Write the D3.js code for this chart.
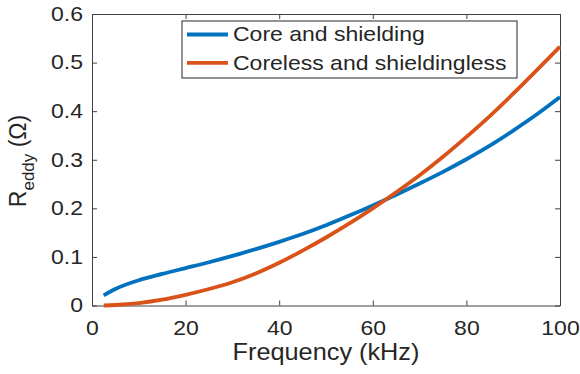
<!DOCTYPE html>
<html>
<head>
<meta charset="utf-8">
<script src="https://cdn.jsdelivr.net/npm/d3@7"></script>
<style>
html,body{margin:0;padding:0;background:#fff}
text{font-family:"Liberation Sans",Arial,sans-serif;fill:#262626}
</style>
</head>
<body>
<div id="chart"></div>
<script>

// frequency points (kHz)
const freq=[2.5,5,10,15,20,25,30,35,40,45,50,55,60,65,70,75,80,85,90,95,100]

// R_eddy values (ohm)
const coreShield=[0.021,0.034,0.052,0.065,0.077,0.089,0.102,0.116,0.131,0.147,0.165,0.185,0.206,0.228,0.251,0.275,0.301,0.329,0.360,0.393,0.429]
const coreless=[0.000,0.001,0.005,0.012,0.022,0.034,0.048,0.066,0.088,0.113,0.140,0.169,0.200,0.233,0.268,0.306,0.347,0.390,0.436,0.484,0.533]

const seriesNames=["Core and shielding","Coreless and shieldingless"]
const seriesColors=["#0072BD","#D95319"]

const xTicks=[0,20,40,60,80,100]
const yTicks=[0,0.1,0.2,0.3,0.4,0.5,0.6]

const width=580
const height=374
const margin={left:92,right:20,top:14,bottom:68.5}
const sx=1.15   // the reference text is a bit wide

const svg=d3.select("#chart")
.append("svg")
.attr("width",width)
.attr("height",height)
.style("background","#fff")

const x=d3.scaleLinear().domain([0,100]).range([margin.left,width-margin.right])
const y=d3.scaleLinear().domain([0,0.6]).range([height-margin.bottom,margin.top])

function stretch(sel){
sel.each(function(){
const t=d3.select(this)
const ox=+t.attr("x")||0
t.attr("x",ox/sx).attr("transform","scale("+sx+",1)")
})
}

// bottom axis
const gx=svg.append("g")
.attr("transform","translate(0,"+y(0)+")")
.call(d3.axisBottom(x).tickValues(xTicks).tickSize(-5).tickPadding(15).tickSizeOuter(0))
gx.selectAll("text").attr("font-size","20px").style("fill","#262626")
gx.selectAll("text").attr("transform","scale("+sx+",1)")

// left axis
const gy=svg.append("g")
.attr("transform","translate("+x(0)+",0)")
.call(d3.axisLeft(y).tickValues(yTicks).tickFormat(d=>d===0?"0":d3.format(".1f")(d)).tickSize(-5).tickPadding(9).tickSizeOuter(0))
gy.selectAll("text").attr("font-size","20px").style("fill","#262626")
stretch(gy.selectAll("text"))

// top and right
svg.append("g")
.attr("transform","translate(0,"+y(0.6)+")")
.call(d3.axisTop(x).tickValues(xTicks).tickSize(-5).tickFormat("").tickSizeOuter(0))

svg.append("g")
.attr("transform","translate("+x(100)+",0)")
.call(d3.axisRight(y).tickValues(yTicks).tickSize(-5).tickFormat("").tickSizeOuter(0))

svg.selectAll(".domain").attr("stroke","#404040").attr("stroke-width",1)
svg.selectAll(".tick line").attr("stroke","#404040").attr("stroke-width",1)

// curves
const line=d3.line()
.x((d,i)=>x(freq[i]))
.y(d=>y(d))
.curve(d3.curveMonotoneX)

;[coreShield,coreless].forEach((s,i)=>{
svg.append("path")
.datum(s)
.attr("fill","none")
.attr("stroke",seriesColors[i])
.attr("stroke-width",3.8)
.attr("stroke-linecap","butt")
.attr("d",line)
})

// legend
const lg=svg.append("g")
lg.append("rect")
.attr("x",182).attr("y",21)
.attr("width",335).attr("height",57)
.attr("fill","#fff")
.attr("stroke","#262626")
.attr("stroke-width",1)

seriesNames.forEach((n,i)=>{
const ly=34.5+i*28.3
lg.append("line")
.attr("x1",187).attr("x2",228)
.attr("y1",ly).attr("y2",ly)
.attr("stroke",seriesColors[i])
.attr("stroke-width",3.8)
lg.append("text")
.attr("x",233/sx)
.attr("y",ly+7)
.attr("transform","scale("+sx+",1)")
.attr("font-size","20px")
.text(n)
})

// axis labels
svg.append("text")
.attr("x",326/1.1)
.attr("y",360)
.attr("transform","scale(1.1,1)")
.attr("text-anchor","middle")
.attr("font-size","23px")
.text("Frequency (kHz)")

const yl=svg.append("text")
.attr("transform","translate(26,161) rotate(-90)")
.attr("text-anchor","middle")
.attr("font-size","23px")
yl.append("tspan").text("R")
yl.append("tspan").attr("font-size","17px").attr("dy",8).text("eddy")
yl.append("tspan").attr("dy",-8).text(" (Ω)")

</script>
</body>
</html>
